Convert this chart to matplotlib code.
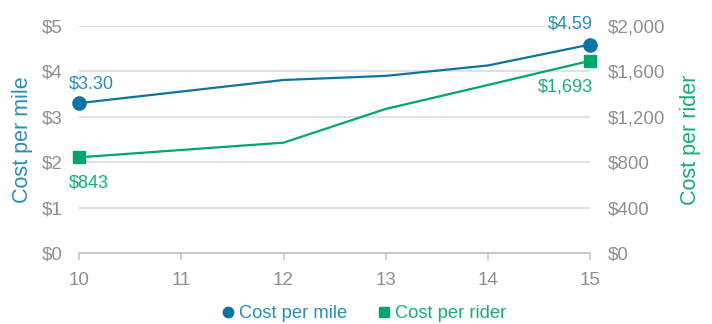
import matplotlib
matplotlib.use("Agg")
import matplotlib.pyplot as plt
from matplotlib.lines import Line2D

plt.rcParams['font.family'] = ['Liberation Sans', 'DejaVu Sans']

years = [10, 12, 13, 14, 15]
cost_per_mile = [3.30, 3.81, 3.90, 4.13, 4.59]
cost_per_rider = [843, 972, 1269, 1480, 1693]
x_ticks = [10, 11, 12, 13, 14, 15]
left_ticks = [0, 1, 2, 3, 4, 5]
right_ticks = [0, 400, 800, 1200, 1600, 2000]

BLUE = '#0b74a0'
BLUE_TXT = '#2a8db5'
GREEN = '#00a66e'
GREEN_TXT = '#16ad76'
GRAY = '#8f8f8f'
GRID = '#dcdcdc'

fig = plt.figure(figsize=(7.12, 3.24), dpi=100)
ax = fig.add_axes([0.111, 0.219, 0.718, 0.701])
ax2 = ax.twinx()

ax.plot(years, cost_per_mile, color=BLUE, lw=1.6, zorder=3)
ax.plot([years[0], years[-1]], [cost_per_mile[0], cost_per_mile[-1]], 'o', color=BLUE, ms=9.5, zorder=4, clip_on=False)
ax2.plot(years, cost_per_rider, color=GREEN, lw=1.6, zorder=3)
ax2.plot([years[0], years[-1]], [cost_per_rider[0], cost_per_rider[-1]], 's', color=GREEN, ms=9, zorder=4, clip_on=False)

ax.set_xlim(10, 15)
ax.set_ylim(0, 5)
ax2.set_ylim(0, 2000)
ax.set_xticks(x_ticks)
ax.set_yticks(left_ticks)
ax.set_yticklabels([f'${v}' for v in left_ticks])
ax2.set_yticks(right_ticks)
ax2.set_yticklabels([f'${v:,}' for v in right_ticks])

ax.grid(axis='y', color=GRID, lw=1.2)
ax.set_axisbelow(True)
for a in (ax, ax2):
    for s in ('top', 'left', 'right'):
        a.spines[s].set_visible(False)
    a.spines['bottom'].set_color('#c8c8c8')
    a.spines['bottom'].set_linewidth(1.2)
ax.tick_params(axis='x', colors='#c8c8c8', labelcolor=GRAY, labelsize=13.5, length=5, width=1.2, pad=8.5)
ax.tick_params(axis='y', length=0, labelcolor=GRAY, labelsize=13.5, pad=12)
ax2.tick_params(axis='y', length=0, labelcolor=GRAY, labelsize=13.5, pad=13)

ax.set_ylabel('Cost per mile', color=BLUE_TXT, fontsize=15.5, labelpad=6)
ax2.set_ylabel('Cost per rider', color=GREEN_TXT, fontsize=15.5, labelpad=10)

ax.annotate(f'${cost_per_mile[0]:.2f}', (years[0], cost_per_mile[0]), xytext=(-7.2, 10.8),
            textcoords='offset points', color=BLUE_TXT, fontsize=13, ha='left', va='baseline')
ax.annotate(f'${cost_per_mile[-1]:.2f}', (years[-1], cost_per_mile[-1]), xytext=(2, 11.5),
            textcoords='offset points', color=BLUE_TXT, fontsize=13, ha='right', va='baseline')
ax2.annotate(f'${cost_per_rider[0]:,}', (years[0], cost_per_rider[0]), xytext=(-7.2, -21.6),
             textcoords='offset points', color=GREEN_TXT, fontsize=13, ha='left', va='baseline')
ax2.annotate(f'${cost_per_rider[-1]:,}', (years[-1], cost_per_rider[-1]), xytext=(2, -22.3),
             textcoords='offset points', color=GREEN_TXT, fontsize=13, ha='right', va='baseline')

handles = [Line2D([], [], marker='o', ls='none', color=BLUE, ms=7.5),
           Line2D([], [], marker='s', ls='none', color=GREEN, ms=7)]
leg = fig.legend(handles, ['Cost per mile', 'Cost per rider'], loc='center', bbox_to_anchor=(0.509, 0.031),
                 ncol=2, frameon=False, fontsize=13.2, handletextpad=0.1, columnspacing=1.5, handlelength=1.0)
for t, c in zip(leg.get_texts(), [BLUE_TXT, GREEN_TXT]):
    t.set_color(c)

fig.savefig('out.png', dpi=100)
